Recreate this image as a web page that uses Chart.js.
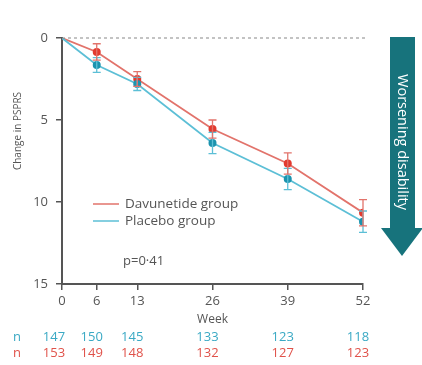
<!DOCTYPE html>
<html><head><meta charset="utf-8">
<script src="https://cdn.jsdelivr.net/npm/chart.js@4"></script>
<style>html,body{margin:0;padding:0;background:#fff}#wrap{width:422px;height:365px;position:relative}</style>
</head><body><div id="wrap"><canvas id="c" width="422" height="365"></canvas></div>
<script>
const weeks = [0, 6, 13, 26, 39, 52];
const davunetide = [0, 0.85, 2.5, 5.55, 7.65, 10.65];
const placebo = [0, 1.65, 2.8, 6.4, 8.6, 11.2];
const davunetideErr = [0, 0.5, 0.45, 0.55, 0.65, 0.8];
const placeboErr = [0, 0.45, 0.4, 0.65, 0.65, 0.65];
const nPlacebo = [147, 150, 145, 133, 123, 118];
const nDavunetide = [153, 149, 148, 132, 127, 123];
const yTicks = [0, 5, 10, 15];
const labels = {yTitle: 'Change in PSPRS', xTitle: 'Week', legend: ['Davunetide group', 'Placebo group'], p: 'p=0·41', arrow: 'Worsening disability'};

const RED_LINE = '#e2736b', RED_PT = '#e23a2f';
const BLUE_LINE = '#5cbfd6', BLUE_PT = '#1b93ae';
const TEXT = '#555';
const FONT = '"Open Sans", sans-serif';

const extras = {
  id: 'extras',
  afterDatasetsDraw(chart) {
    const ctx = chart.ctx, xs = chart.scales.x, ys = chart.scales.y;
    ctx.save();
    ctx.strokeStyle = '#888'; ctx.lineWidth = 1; ctx.setLineDash([3, 3]);
    ctx.beginPath(); ctx.moveTo(xs.left, ys.getPixelForValue(0)); ctx.lineTo(xs.right + 2, ys.getPixelForValue(0)); ctx.stroke();
    ctx.setLineDash([]);
    const series = [[placebo, placeboErr, BLUE_LINE], [davunetide, davunetideErr, RED_LINE]];
    series.forEach(([vals, errs, col]) => {
      ctx.strokeStyle = col; ctx.lineWidth = 1.3;
      weeks.forEach((w, i) => {
        if (!errs[i]) return;
        const x = xs.getPixelForValue(w);
        const y1 = ys.getPixelForValue(vals[i] - errs[i]), y2 = ys.getPixelForValue(vals[i] + errs[i]);
        ctx.beginPath();
        ctx.moveTo(x, y1); ctx.lineTo(x, y2);
        ctx.moveTo(x - 4, y1); ctx.lineTo(x + 4, y1);
        ctx.moveTo(x - 4, y2); ctx.lineTo(x + 4, y2);
        ctx.stroke();
      });
    });
    ctx.restore();
  },
  afterDraw(chart) {
    const ctx = chart.ctx, xs = chart.scales.x, ys = chart.scales.y;
    ctx.save();
    ctx.fillStyle = TEXT; ctx.font = '10px ' + FONT;
    ctx.translate(18, 131); ctx.rotate(-Math.PI / 2);
    ctx.textAlign = 'center'; ctx.textBaseline = 'middle';
    ctx.fillText(labels.yTitle, 0, 0);
    ctx.restore();
    ctx.save();
    ctx.font = '13.5px ' + FONT; ctx.textBaseline = 'middle'; ctx.textAlign = 'left';
    [[RED_LINE, labels.legend[0], 204], [BLUE_LINE, labels.legend[1], 221]].forEach(([c, t, y]) => {
      ctx.strokeStyle = c; ctx.lineWidth = 1.5;
      ctx.beginPath(); ctx.moveTo(93, y); ctx.lineTo(119, y); ctx.stroke();
      ctx.fillStyle = TEXT; ctx.fillText(t, 125, y);
    });
    ctx.font = '13px ' + FONT;
    ctx.fillText(labels.p, 123, 261);
    ctx.textAlign = 'center';
    ctx.font = '12px ' + FONT;
    ctx.fillText(labels.xTitle, xs.getPixelForValue(26), 320);
    ctx.font = '13px ' + FONT;
    ctx.fillStyle = '#3aa9c4'; ctx.textAlign = 'center'; ctx.fillText('n', 17, 337);
    ctx.fillStyle = '#e0524a'; ctx.fillText('n', 17, 353);
    weeks.forEach((w, i) => {
      const x = xs.getPixelForValue(w) - (i === 0 ? 8 : 5);
      ctx.fillStyle = '#3aa9c4'; ctx.fillText(String(nPlacebo[i]), x, 337);
      ctx.fillStyle = '#e0524a'; ctx.fillText(String(nDavunetide[i]), x, 353);
    });
    ctx.fillStyle = '#17737c';
    ctx.beginPath();
    ctx.moveTo(390, 37); ctx.lineTo(415, 37); ctx.lineTo(415, 228); ctx.lineTo(423, 228);
    ctx.lineTo(402, 256); ctx.lineTo(381, 228); ctx.lineTo(390, 228); ctx.closePath(); ctx.fill();
    ctx.fillStyle = '#fff'; ctx.font = '14.5px ' + FONT;
    ctx.translate(402, 142); ctx.rotate(Math.PI / 2);
    ctx.textAlign = 'center'; ctx.textBaseline = 'middle';
    ctx.fillText(labels.arrow, 0, 0);
    ctx.restore();
  }
};

new Chart(document.getElementById('c'), {
  type: 'line',
  data: {
    datasets: [
      {label: labels.legend[1], data: weeks.map((w, i) => ({x: w, y: placebo[i]})), borderColor: BLUE_LINE, backgroundColor: BLUE_PT, pointBackgroundColor: BLUE_PT, pointBorderWidth: 0, pointRadius: [0, 4, 4, 4, 4, 4], borderWidth: 1.8, tension: 0},
      {label: labels.legend[0], data: weeks.map((w, i) => ({x: w, y: davunetide[i]})), borderColor: RED_LINE, backgroundColor: RED_PT, pointBackgroundColor: RED_PT, pointBorderWidth: 0, pointRadius: [0, 4, 4, 4, 4, 4], borderWidth: 1.8, tension: 0}
    ]
  },
  options: {
    responsive: false, animation: false, devicePixelRatio: 1,
    layout: {padding: {top: 38, right: 59, left: 0, bottom: 0}},
    plugins: {legend: {display: false}, tooltip: {enabled: false}},
    scales: {
      x: {
        type: 'linear', min: 0, max: 52,
        afterBuildTicks: s => { s.ticks = weeks.map(v => ({value: v})); },
        afterFit: s => { s.height = 81; },
        grid: {drawOnChartArea: false, drawTicks: true, tickLength: 6, color: '#555', lineWidth: 1.5},
        border: {color: '#555', width: 2},
        ticks: {color: TEXT, font: {family: FONT, size: 13}, padding: 3, maxRotation: 0, autoSkip: false}
      },
      y: {
        type: 'linear', min: 0, max: 15, reverse: true,
        afterBuildTicks: s => { s.ticks = yTicks.map(v => ({value: v})); },
        afterFit: s => { s.width = 62; },
        grid: {drawOnChartArea: false, drawTicks: true, tickLength: 6, color: '#555', lineWidth: 1.5},
        border: {color: '#555', width: 2},
        ticks: {color: TEXT, font: {family: FONT, size: 13}, padding: 8}
      }
    }
  },
  plugins: [extras]
});
</script></body></html>
